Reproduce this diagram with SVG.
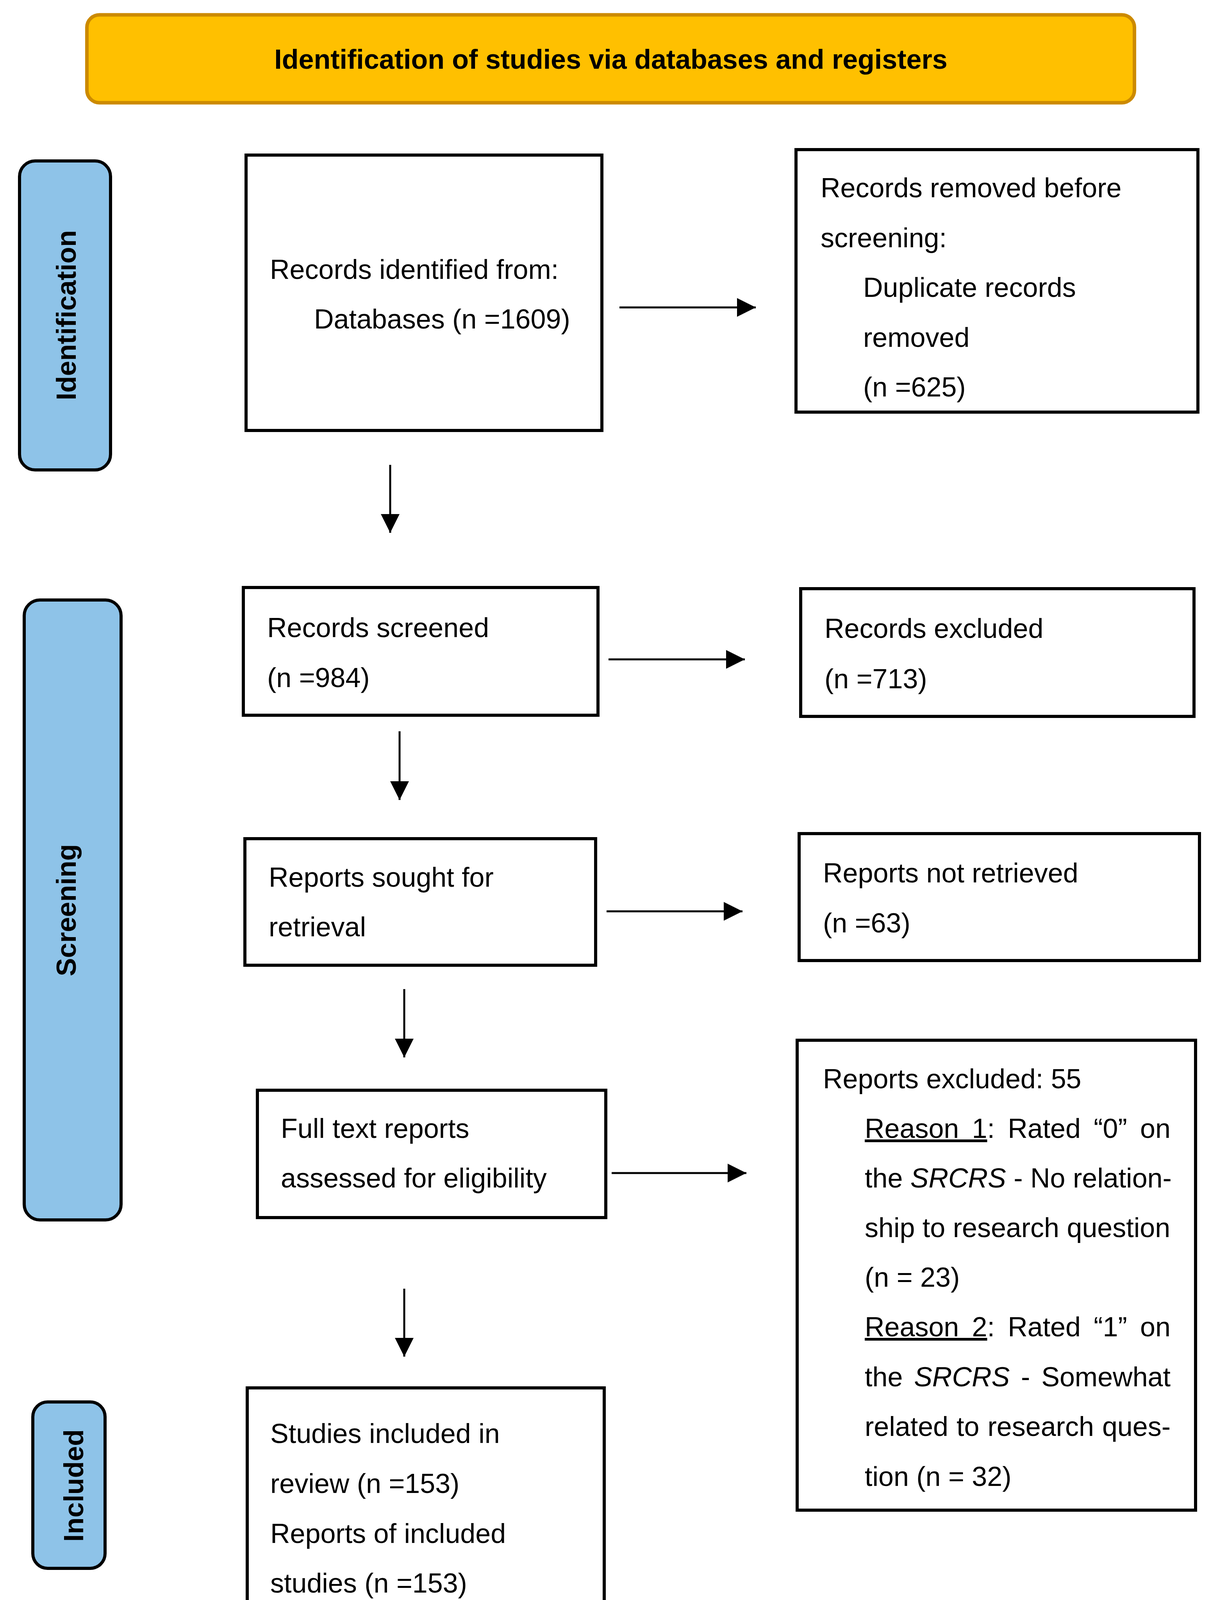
<svg xmlns="http://www.w3.org/2000/svg" width="3121" height="4195" viewBox="0 0 3121 4195">
<style>
  .bg { fill: #FFFFFF; }
  .box { fill: #FFFFFF; stroke: #000000; stroke-width: 8; }
  .side { fill: #8EC3E8; stroke: #000000; stroke-width: 8; }
  .head { fill: #FFC000; stroke: #CC8A00; stroke-width: 9; }
  .t { font-family: "Liberation Sans", Arial, sans-serif; font-size: 70px; fill: #000000; }
  .b { font-family: "Liberation Sans", Arial, sans-serif; font-size: 70px; font-weight: bold; fill: #000000; }
  .conn { stroke: #000000; stroke-width: 5; fill: none; }
  .u { text-decoration: underline; }
  .i { font-style: italic; }
</style>
<defs>
  <marker id="arrow" markerUnits="userSpaceOnUse" markerWidth="48" markerHeight="48" refX="48" refY="24" orient="auto">
    <path d="M0,0 L48,24 L0,48 Z" fill="#000000"/>
  </marker>
</defs>
<rect class="bg" x="0" y="0" width="3121" height="4195"/>

<g id="header">
  <rect class="head" x="222.5" y="38" width="2682" height="225" rx="32" ry="32"/>
  <text class="b" x="1564" y="176" text-anchor="middle">Identification of studies via databases and registers</text>
</g>

<g id="label-identification">
  <rect class="side" x="50" y="412" width="233" height="791" rx="40" ry="40"/>
  <text class="b" x="194" y="807" text-anchor="middle" transform="rotate(-90 194 807)">Identification</text>
</g>

<g id="label-screening">
  <rect class="side" x="62" y="1536" width="248" height="1587" rx="40" ry="40"/>
  <text class="b" x="194" y="2330" text-anchor="middle" transform="rotate(-90 194 2330)">Screening</text>
</g>

<g id="label-included">
  <rect class="side" x="84" y="3589" width="185" height="426" rx="38" ry="38"/>
  <text class="b" x="213" y="3803" text-anchor="middle" transform="rotate(-90 213 3803)">Included</text>
</g>

<g id="records-identified">
  <rect class="box" x="630" y="397" width="911" height="705"/>
  <text class="t" x="691" y="714">Records identified from:</text>
  <text class="t" x="804" y="841">Databases (n =1609)</text>
</g>

<g id="records-removed">
  <rect class="box" x="2038" y="383" width="1029" height="672"/>
  <text class="t" x="2101" y="505">Records removed before</text>
  <text class="t" x="2101" y="633">screening:</text>
  <text class="t" x="2210" y="760">Duplicate records</text>
  <text class="t" x="2210" y="888">removed</text>
  <text class="t" x="2210" y="1015">(n =625)</text>
</g>

<g id="records-screened">
  <rect class="box" x="623" y="1504" width="908" height="327"/>
  <text class="t" x="684" y="1631">Records screened</text>
  <text class="t" x="684" y="1759">(n =984)</text>
</g>

<g id="records-excluded">
  <rect class="box" x="2050" y="1507" width="1007" height="327"/>
  <text class="t" x="2111" y="1633">Records excluded</text>
  <text class="t" x="2111" y="1762">(n =713)</text>
</g>

<g id="reports-sought">
  <rect class="box" x="627" y="2147" width="898" height="324"/>
  <text class="t" x="688" y="2270">Reports sought for</text>
  <text class="t" x="688" y="2397">retrieval</text>
</g>

<g id="reports-not-retrieved">
  <rect class="box" x="2046" y="2134" width="1025" height="325"/>
  <text class="t" x="2107" y="2259">Reports not retrieved</text>
  <text class="t" x="2107" y="2387">(n =63)</text>
</g>

<g id="full-text">
  <rect class="box" x="659" y="2791" width="892" height="326"/>
  <text class="t" x="719" y="2913">Full text reports</text>
  <text class="t" x="719" y="3040">assessed for eligibility</text>
</g>

<g id="reports-excluded">
  <rect class="box" x="2041" y="2663" width="1020" height="1203"/>
  <text class="t" x="2107" y="2786">Reports excluded: 55</text>
  <text class="t" x="2214" y="2913" word-spacing="13.8"><tspan class="u">Reason 1</tspan>: Rated “0” on</text>
  <text class="t" x="2214" y="3040">the <tspan class="i">SRCRS</tspan> - No relation-</text>
  <text class="t" x="2214" y="3167">ship to research question</text>
  <text class="t" x="2214" y="3294">(n = 23)</text>
  <text class="t" x="2214" y="3421" word-spacing="13.8"><tspan class="u">Reason 2</tspan>: Rated “1” on</text>
  <text class="t" x="2214" y="3549" word-spacing="9.4">the <tspan class="i">SRCRS</tspan> - Somewhat</text>
  <text class="t" x="2214" y="3676" word-spacing="1.6">related to research ques-</text>
  <text class="t" x="2214" y="3804">tion (n = 32)</text>
</g>

<g id="studies-included">
  <rect class="box" x="633" y="3553" width="914" height="610"/>
  <text class="t" x="692" y="3694">Studies included in</text>
  <text class="t" x="692" y="3822">review (n =153)</text>
  <text class="t" x="692" y="3950">Reports of included</text>
  <text class="t" x="692" y="4077">studies (n =153)</text>
</g>

<g id="connectors">
  <line class="conn" x1="1586" y1="787" x2="1935" y2="787" marker-end="url(#arrow)"/>
  <line class="conn" x1="999" y1="1190" x2="999" y2="1364" marker-end="url(#arrow)"/>
  <line class="conn" x1="1558" y1="1688" x2="1907" y2="1688" marker-end="url(#arrow)"/>
  <line class="conn" x1="1023" y1="1872" x2="1023" y2="2048" marker-end="url(#arrow)"/>
  <line class="conn" x1="1553" y1="2333" x2="1901" y2="2333" marker-end="url(#arrow)"/>
  <line class="conn" x1="1035" y1="2532" x2="1035" y2="2707" marker-end="url(#arrow)"/>
  <line class="conn" x1="1566" y1="3003" x2="1911" y2="3003" marker-end="url(#arrow)"/>
  <line class="conn" x1="1035" y1="3299" x2="1035" y2="3473" marker-end="url(#arrow)"/>
</g>
</svg>
